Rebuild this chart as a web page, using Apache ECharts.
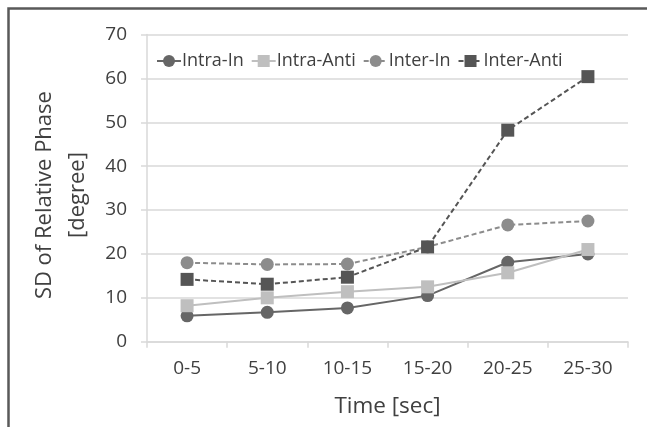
<!DOCTYPE html>
<html><head><meta charset="utf-8">
<script src="https://cdn.jsdelivr.net/npm/echarts@6/dist/echarts.min.js"></script>
<style>html,body{margin:0;padding:0;background:#fff}#c{width:647px;height:427px}</style>
</head><body><div id="c"></div>
<script>
const categories = ['0-5','5-10','10-15','15-20','20-25','25-30'];
const intraIn = [5.9, 6.7, 7.7, 10.5, 18.1, 20.0];
const intraAnti = [8.2, 10.0, 11.4, 12.5, 15.7, 21.0];
const interIn = [18.0, 17.6, 17.7, 21.6, 26.6, 27.5];
const interAnti = [14.2, 13.1, 14.7, 21.6, 48.2, 60.4];
const yTicks = {min: 0, max: 70, interval: 10};

const font = '"Open Sans", "Noto Sans", sans-serif';
const chart = echarts.init(document.getElementById('c'));
function line(name, data, color, symbol, dashed) {
  return {
    name, type: 'line', data, symbol, symbolSize: 13,
    itemStyle: {color: color},
    lineStyle: {color: color, width: 2, type: dashed ? [5, 3] : 'solid'},
    animation: false
  };
}
chart.setOption({
  animation: false,
  textStyle: {fontFamily: font},
  graphic: [{
    type: 'rect', z: 100, silent: true,
    shape: {x: 8.5, y: 8.5, width: 700, height: 500},
    style: {fill: 'none', stroke: '#595959', lineWidth: 2.5}
  }],
  grid: {left: 147, right: 19, top: 34.5, bottom: 85.3, containLabel: false},
  legend: {
    left: 151, top: 47, itemWidth: 24, itemHeight: 15, itemGap: 7,
    textStyle: {fontFamily: font, fontSize: 18, color: '#404040', padding: [0, 0, 0, -4]},
    data: ['Intra-In', 'Intra-Anti', 'Inter-In', 'Inter-Anti']
  },
  xAxis: {
    type: 'category', data: categories, boundaryGap: true,
    name: 'Time [sec]', nameLocation: 'middle', nameGap: 53,
    nameTextStyle: {fontFamily: font, fontSize: 22.5, color: '#404040'},
    axisLine: {lineStyle: {color: '#d9d9d9', width: 1.5}},
    axisTick: {show: true, length: 6, alignWithLabel: false, lineStyle: {color: '#d9d9d9', width: 1.5}},
    axisLabel: {fontFamily: font, fontSize: 19, color: '#404040', margin: 17}
  },
  yAxis: {
    type: 'value', min: yTicks.min, max: yTicks.max, interval: yTicks.interval,
    name: 'SD of Relative Phase\n[degree]', nameLocation: 'middle', nameGap: 52, nameRotate: 90,
    nameTextStyle: {fontFamily: font, fontSize: 22, color: '#404040', lineHeight: 33, align: 'center', padding: [0, 14, 0, 0]},
    axisLine: {show: true, lineStyle: {color: '#d9d9d9', width: 1.5}},
    axisTick: {show: true, length: 6, lineStyle: {color: '#d9d9d9', width: 1.5}},
    splitLine: {lineStyle: {color: '#d9d9d9', width: 1.5}},
    axisLabel: {fontFamily: font, fontSize: 19, color: '#404040', margin: 20}
  },
  series: [
    line('Intra-In', intraIn, '#666666', 'circle', false),
    line('Intra-Anti', intraAnti, '#bfbfbf', 'rect', false),
    line('Inter-In', interIn, '#8c8c8c', 'circle', true),
    line('Inter-Anti', interAnti, '#555555', 'rect', true)
  ]
});
</script></body></html>
